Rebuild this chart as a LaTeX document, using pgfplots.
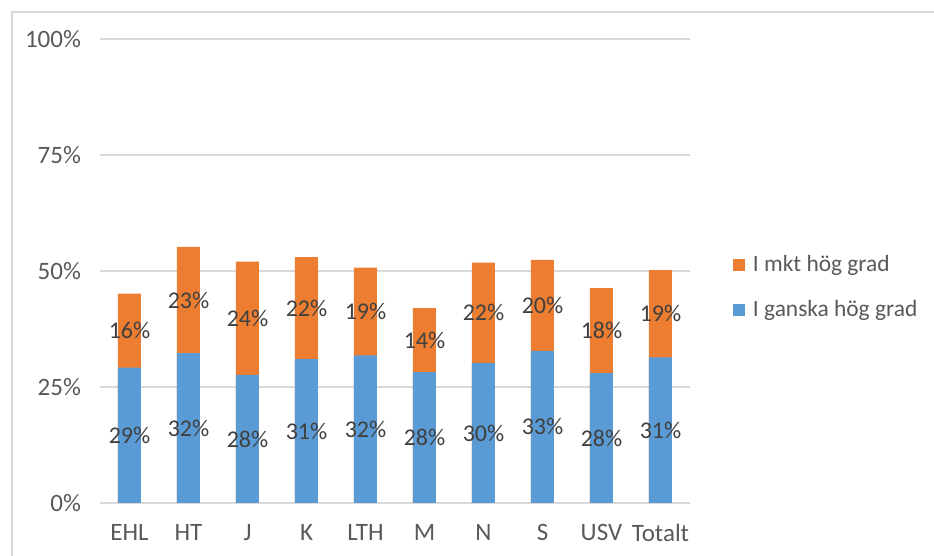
\documentclass[border=0pt]{standalone}
\usepackage{pgfplots}
\usepackage{pgfplotstable}
\pgfplotsset{compat=1.18}
\usepackage{fontspec}
\setmainfont{Carlito}

\definecolor{orangeC}{HTML}{ED7D31}
\definecolor{blueC}{HTML}{5B9BD5}
\definecolor{gridC}{HTML}{D9D9D9}
\definecolor{tickC}{HTML}{595959}
\definecolor{labelC}{HTML}{404040}

% andel per fakultet, blue = I ganska hög grad, orange = I mkt hög grad
\pgfplotstableread{
x blue orange
0 29.2 15.9
1 32.3 22.9
2 27.6 24.4
3 31.0 22.0
4 31.8 18.9
5 28.2 13.8
6 30.2 21.6
7 32.8 19.6
8 28.0 18.3
9 31.4 18.8
}\data

\begin{document}
\begin{tikzpicture}
\useasboundingbox (-50pt,-26.5pt) rectangle (417pt,251.5pt);
\draw[gridC, line width=0.8pt] (-44pt,-40pt) -- (-44pt,245.5pt) -- (430pt,245.5pt);
\begin{axis}[
    at={(0,0)}, anchor=south west,
    scale only axis,
    width=295pt, height=232pt,
    xmin=-0.5, xmax=9.5,
    ymin=0, ymax=100,
    axis line style={draw=none},
    major tick length=0pt,
    ymajorgrids,
    grid style={gridC, line width=0.8pt},
    ytick={0,25,50,75,100},
    yticklabel={\pgfmathprintnumber{\tick}\%},
    xtick={0,...,9},
    xticklabels={EHL,HT,J,K,LTH,M,N,S,USV,Totalt},
    /pgf/number format/assume math mode=true,
    ticklabel style={font=\fontsize{12.5}{14}\selectfont, text=tickC},
    yticklabel style={xshift=-6pt},
    xticklabel style={yshift=-7pt},
    legend style={
        at={(1.062,0.465)}, anchor=west,
        draw=none, fill=none,
        font=\fontsize{11.7}{14}\selectfont, text=tickC,
        row sep=9pt,
        legend cell align=left,
    },
    legend image code/.code={\fill[#1] (0pt,-3pt) rectangle (6pt,3pt); \path (0pt,0pt) -- (8pt,0pt);},
]
\addplot[ybar, bar width=11.5pt, bar shift=0pt, fill=orangeC, draw=none]
    table[x=x, y expr=\thisrow{blue}+\thisrow{orange}] {\data};
\addlegendentry{I mkt hög grad}
\addplot[ybar, bar width=11.5pt, bar shift=0pt, fill=blueC, draw=none]
    table[x=x, y=blue] {\data};
\addlegendentry{I ganska hög grad}

% labels in the middle of each segment
\addplot[draw=none, mark=none, forget plot,
    nodes near coords={\pgfmathprintnumber[fixed,precision=0]{\pgfplotspointmeta}\%},
    point meta=explicit,
    every node near coord/.style={anchor=center, font=\fontsize{12}{14}\selectfont, text=labelC}]
    table[x=x, y expr=\thisrow{blue}/2, meta=blue] {\data};
\addplot[draw=none, mark=none, forget plot,
    nodes near coords={\pgfmathprintnumber[fixed,precision=0]{\pgfplotspointmeta}\%},
    point meta=explicit,
    every node near coord/.style={anchor=center, font=\fontsize{12}{14}\selectfont, text=labelC}]
    table[x=x, y expr=\thisrow{blue}+\thisrow{orange}/2, meta=orange] {\data};
\end{axis}
\end{tikzpicture}
\end{document}
